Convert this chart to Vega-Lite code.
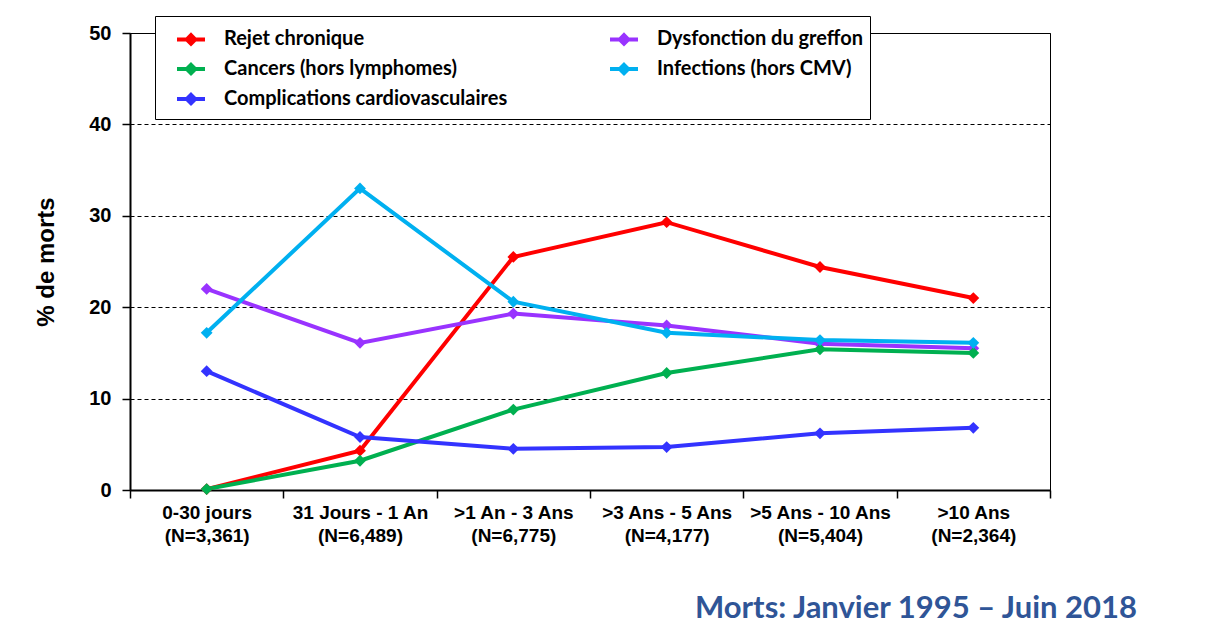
{
  "$schema": "https://vega.github.io/schema/vega-lite/v6.json",
  "width": 920,
  "height": 457,
  "autosize": {"type": "none"},
  "padding": {"left": 130, "top": 33, "right": 161, "bottom": 147},
  "background": "white",
  "config": {
    "view": {"stroke": "black", "strokeWidth": 1},
    "font": "Liberation Sans"
  },
  "title": {
    "text": "Morts: Janvier 1995 – Juin 2018",
    "orient": "bottom",
    "anchor": "end",
    "frame": "group",
    "font": "Lato",
    "fontSize": 31,
    "fontWeight": "bold",
    "color": "#2F5597",
    "offset": 49,
    "dx": 87
  },
  "data": {
    "values": [
      {"period": "0-30 jours|(N=3,361)", "cause": "Rejet chronique", "pct": 0.1},
      {"period": "31 Jours - 1 An|(N=6,489)", "cause": "Rejet chronique", "pct": 4.3},
      {"period": ">1 An - 3 Ans|(N=6,775)", "cause": "Rejet chronique", "pct": 25.5},
      {"period": ">3 Ans - 5 Ans|(N=4,177)", "cause": "Rejet chronique", "pct": 29.3},
      {"period": ">5 Ans - 10 Ans|(N=5,404)", "cause": "Rejet chronique", "pct": 24.4},
      {"period": ">10 Ans|(N=2,364)", "cause": "Rejet chronique", "pct": 21.0},
      {"period": "0-30 jours|(N=3,361)", "cause": "Dysfonction du greffon", "pct": 22.0},
      {"period": "31 Jours - 1 An|(N=6,489)", "cause": "Dysfonction du greffon", "pct": 16.1},
      {"period": ">1 An - 3 Ans|(N=6,775)", "cause": "Dysfonction du greffon", "pct": 19.3},
      {"period": ">3 Ans - 5 Ans|(N=4,177)", "cause": "Dysfonction du greffon", "pct": 18.0},
      {"period": ">5 Ans - 10 Ans|(N=5,404)", "cause": "Dysfonction du greffon", "pct": 16.0},
      {"period": ">10 Ans|(N=2,364)", "cause": "Dysfonction du greffon", "pct": 15.5},
      {"period": "0-30 jours|(N=3,361)", "cause": "Cancers (hors lymphomes)", "pct": 0.1},
      {"period": "31 Jours - 1 An|(N=6,489)", "cause": "Cancers (hors lymphomes)", "pct": 3.2},
      {"period": ">1 An - 3 Ans|(N=6,775)", "cause": "Cancers (hors lymphomes)", "pct": 8.8},
      {"period": ">3 Ans - 5 Ans|(N=4,177)", "cause": "Cancers (hors lymphomes)", "pct": 12.8},
      {"period": ">5 Ans - 10 Ans|(N=5,404)", "cause": "Cancers (hors lymphomes)", "pct": 15.4},
      {"period": ">10 Ans|(N=2,364)", "cause": "Cancers (hors lymphomes)", "pct": 15.0},
      {"period": "0-30 jours|(N=3,361)", "cause": "Infections (hors CMV)", "pct": 17.2},
      {"period": "31 Jours - 1 An|(N=6,489)", "cause": "Infections (hors CMV)", "pct": 33.0},
      {"period": ">1 An - 3 Ans|(N=6,775)", "cause": "Infections (hors CMV)", "pct": 20.6},
      {"period": ">3 Ans - 5 Ans|(N=4,177)", "cause": "Infections (hors CMV)", "pct": 17.2},
      {"period": ">5 Ans - 10 Ans|(N=5,404)", "cause": "Infections (hors CMV)", "pct": 16.4},
      {"period": ">10 Ans|(N=2,364)", "cause": "Infections (hors CMV)", "pct": 16.1},
      {"period": "0-30 jours|(N=3,361)", "cause": "Complications cardiovasculaires", "pct": 13.0},
      {"period": "31 Jours - 1 An|(N=6,489)", "cause": "Complications cardiovasculaires", "pct": 5.8},
      {"period": ">1 An - 3 Ans|(N=6,775)", "cause": "Complications cardiovasculaires", "pct": 4.5},
      {"period": ">3 Ans - 5 Ans|(N=4,177)", "cause": "Complications cardiovasculaires", "pct": 4.7},
      {"period": ">5 Ans - 10 Ans|(N=5,404)", "cause": "Complications cardiovasculaires", "pct": 6.2},
      {"period": ">10 Ans|(N=2,364)", "cause": "Complications cardiovasculaires", "pct": 6.8}
    ]
  },
  "mark": {
    "type": "line",
    "strokeWidth": 4,
    "point": {"shape": "diamond", "filled": true, "size": 140, "opacity": 1}
  },
  "encoding": {
    "x": {
      "field": "period",
      "type": "nominal",
      "sort": ["0-30 jours|(N=3,361)", "31 Jours - 1 An|(N=6,489)", ">1 An - 3 Ans|(N=6,775)", ">3 Ans - 5 Ans|(N=4,177)", ">5 Ans - 10 Ans|(N=5,404)", ">10 Ans|(N=2,364)"],
      "bandPosition": 0.5,
      "scale": {"type": "band", "paddingInner": 0, "paddingOuter": 0},
      "axis": {
        "title": null,
        "labelExpr": "split(datum.label, '|')",
        "labelAngle": 0,
        "labelFont": "Arial, Liberation Sans",
        "labelFontSize": 19,
        "labelFontWeight": "bold",
        "labelColor": "black",
        "labelLineHeight": 23,
        "labelPadding": 5,
        "labelLimit": 200,
        "labelOverlap": false,
        "labelBound": false,
        "tickBand": "extent",
        "tickSize": 8,
        "tickColor": "black",
        "tickWidth": 1.5,
        "domainColor": "black",
        "domainWidth": 2,
        "grid": false
      }
    },
    "y": {
      "field": "pct",
      "type": "quantitative",
      "scale": {"domain": [0, 50], "nice": false},
      "axis": {
        "title": "%  de morts",
        "titleFont": "Arial, Liberation Sans",
        "titleFontSize": 24,
        "titleFontWeight": "bold",
        "titleColor": "black",
        "titlePadding": 30,
        "values": [0, 10, 20, 30, 40, 50],
        "labelFont": "Arial, Liberation Sans",
        "labelFontSize": 20,
        "labelFontWeight": "bold",
        "labelColor": "black",
        "labelPadding": 11,
        "tickSize": 8,
        "tickColor": "black",
        "tickWidth": 1.5,
        "domainColor": "black",
        "domainWidth": 2,
        "grid": true,
        "gridColor": "black",
        "gridDash": [4, 3],
        "gridWidth": 1
      }
    },
    "color": {
      "field": "cause",
      "type": "nominal",
      "scale": {
        "domain": ["Rejet chronique", "Dysfonction du greffon", "Cancers (hors lymphomes)", "Infections (hors CMV)", "Complications cardiovasculaires"],
        "range": ["#FF0000", "#9933FF", "#00B050", "#00B0F0", "#3333FF"]
      },
      "legend": {
        "title": null,
        "orient": "none",
        "legendX": 25,
        "legendY": -17,
        "columns": 2,
        "direction": "horizontal",
        "gridAlign": "all",
        "strokeColor": "black",
        "fillColor": "white",
        "padding": 7,
        "rowPadding": 1,
        "columnPadding": 87,
        "symbolType": "M-1,0L1,0M0,-0.3L0.3,0L0,0.3L-0.3,0Z",
        "symbolSize": 784,
        "symbolStrokeWidth": 4,
        "symbolOffset": 13,
        "labelOffset": 17,
        "labelFont": "Lato",
        "labelFontSize": 20,
        "labelFontWeight": "bold",
        "labelColor": "black",
        "labelLimit": 400,
        "encode": {
          "symbols": {"update": {"fill": {"scale": "color", "field": "value"}}}
        }
      }
    }
  }
}
